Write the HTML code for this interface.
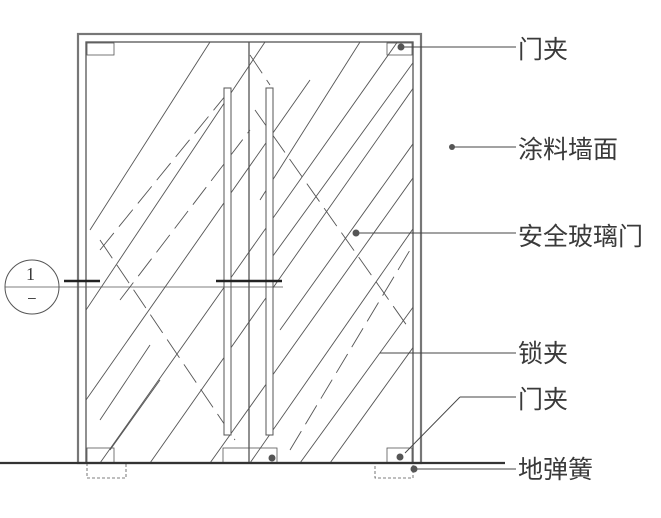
<!DOCTYPE html>
<html><head><meta charset="utf-8"><style>
html,body{margin:0;padding:0;background:#fff;width:661px;height:518px;overflow:hidden}
svg{display:block}
text{font-family:"Liberation Sans","Noto Sans CJK SC",sans-serif;font-size:25px;fill:#3a3a3a}
</style></head><body>
<svg width="661" height="518" viewBox="0 0 661 518" xmlns="http://www.w3.org/2000/svg">
<defs>
<clipPath id="gl"><rect x="86" y="42" width="327" height="421"/></clipPath>
</defs>
<g stroke="#555" fill="none" stroke-width="0.9" clip-path="url(#gl)">
<line x1="90" y1="230" x2="210" y2="42"/>
<line x1="86" y1="310" x2="265" y2="42"/>
<line x1="86" y1="400" x2="310" y2="80"/>
<line x1="100" y1="463" x2="420" y2="10"/>
<line x1="150" y1="463" x2="440" y2="50"/>
<line x1="210" y1="463" x2="440" y2="140"/>
<line x1="250" y1="463" x2="440" y2="190"/>
<line x1="300" y1="463" x2="440" y2="270"/>
<line x1="330" y1="463" x2="440" y2="310"/>
<line x1="260" y1="200" x2="360" y2="42"/>
<line x1="270" y1="260" x2="415" y2="60"/>
<line x1="280" y1="330" x2="430" y2="120"/>
<line x1="100" y1="420" x2="150" y2="345"/>
<line x1="110" y1="450" x2="160" y2="380"/>
<g stroke-dasharray="22 8">
<line x1="100" y1="250" x2="230" y2="90"/>
<line x1="120" y1="300" x2="250" y2="130"/>
<line x1="255" y1="110" x2="410" y2="330"/>
<line x1="100" y1="240" x2="235" y2="440"/>
<line x1="290" y1="450" x2="410" y2="250"/>
<line x1="250" y1="55" x2="270" y2="85"/>
</g>
</g>
<g stroke="#555" fill="none">
<rect x="78" y="34" width="343" height="429" stroke-width="2.2" stroke="#777"/>
<rect x="86" y="42" width="327" height="421" stroke-width="1.3"/>
<line x1="249" y1="42" x2="249" y2="463" stroke-width="1.3"/>
<rect x="224" y="88" width="7" height="347" fill="#fff" stroke-width="1"/>
<rect x="266" y="88" width="7" height="347" fill="#fff" stroke-width="1"/>
<rect x="87" y="43" width="27" height="12" stroke-width="0.8"/>
<rect x="387" y="43" width="25" height="12" stroke-width="0.8"/>
<rect x="87" y="448" width="27" height="15" stroke-width="0.8"/>
<rect x="223" y="448" width="54" height="15" stroke-width="0.8"/>
<rect x="387" y="448" width="25" height="15" stroke-width="0.8"/>
<rect x="87" y="463" width="39" height="15" stroke-dasharray="3 2" stroke-width="0.8"/>
<rect x="375" y="463" width="38" height="15" stroke-dasharray="3 2" stroke-width="0.8"/>
<line x1="0" y1="463" x2="505" y2="463" stroke-width="2.2" stroke="#333"/>
<circle cx="32" cy="287" r="27" stroke-width="1"/>
<line x1="5" y1="287" x2="283" y2="287" stroke-width="0.8"/>
<line x1="64" y1="281" x2="100" y2="281" stroke-width="2.5" stroke="#222"/>
<line x1="216" y1="281" x2="282" y2="281" stroke-width="2.5" stroke="#222"/>
<g stroke="#444" stroke-width="0.9">
<line x1="401" y1="47" x2="516" y2="47"/>
<line x1="452" y1="147" x2="516" y2="147"/>
<line x1="356" y1="233" x2="516" y2="233"/>
<line x1="380" y1="353" x2="516" y2="353"/>
<line x1="405" y1="453" x2="460" y2="397"/>
<line x1="460" y1="397" x2="516" y2="397"/>
<line x1="414" y1="469" x2="516" y2="469"/>
</g>
</g>
<g fill="#555">
<circle cx="401" cy="47" r="3.5"/><circle cx="452" cy="147" r="3"/><circle cx="356" cy="233" r="3.5"/>
<circle cx="272" cy="458" r="3.5"/><circle cx="400" cy="457" r="3.5"/><circle cx="414" cy="469" r="3.5"/>
</g>
<text x="26" y="280" style="font-family:'Liberation Serif',serif;font-size:18px">1</text>
<text x="28" y="302" style="font-size:14px">–</text>
<text x="518" y="58">门夹</text>
<text x="518" y="158">涂料墙面</text>
<text x="518" y="245">安全玻璃门</text>
<text x="518" y="362">锁夹</text>
<text x="518" y="408">门夹</text>
<text x="518" y="478">地弹簧</text>
</svg>
</body></html>
